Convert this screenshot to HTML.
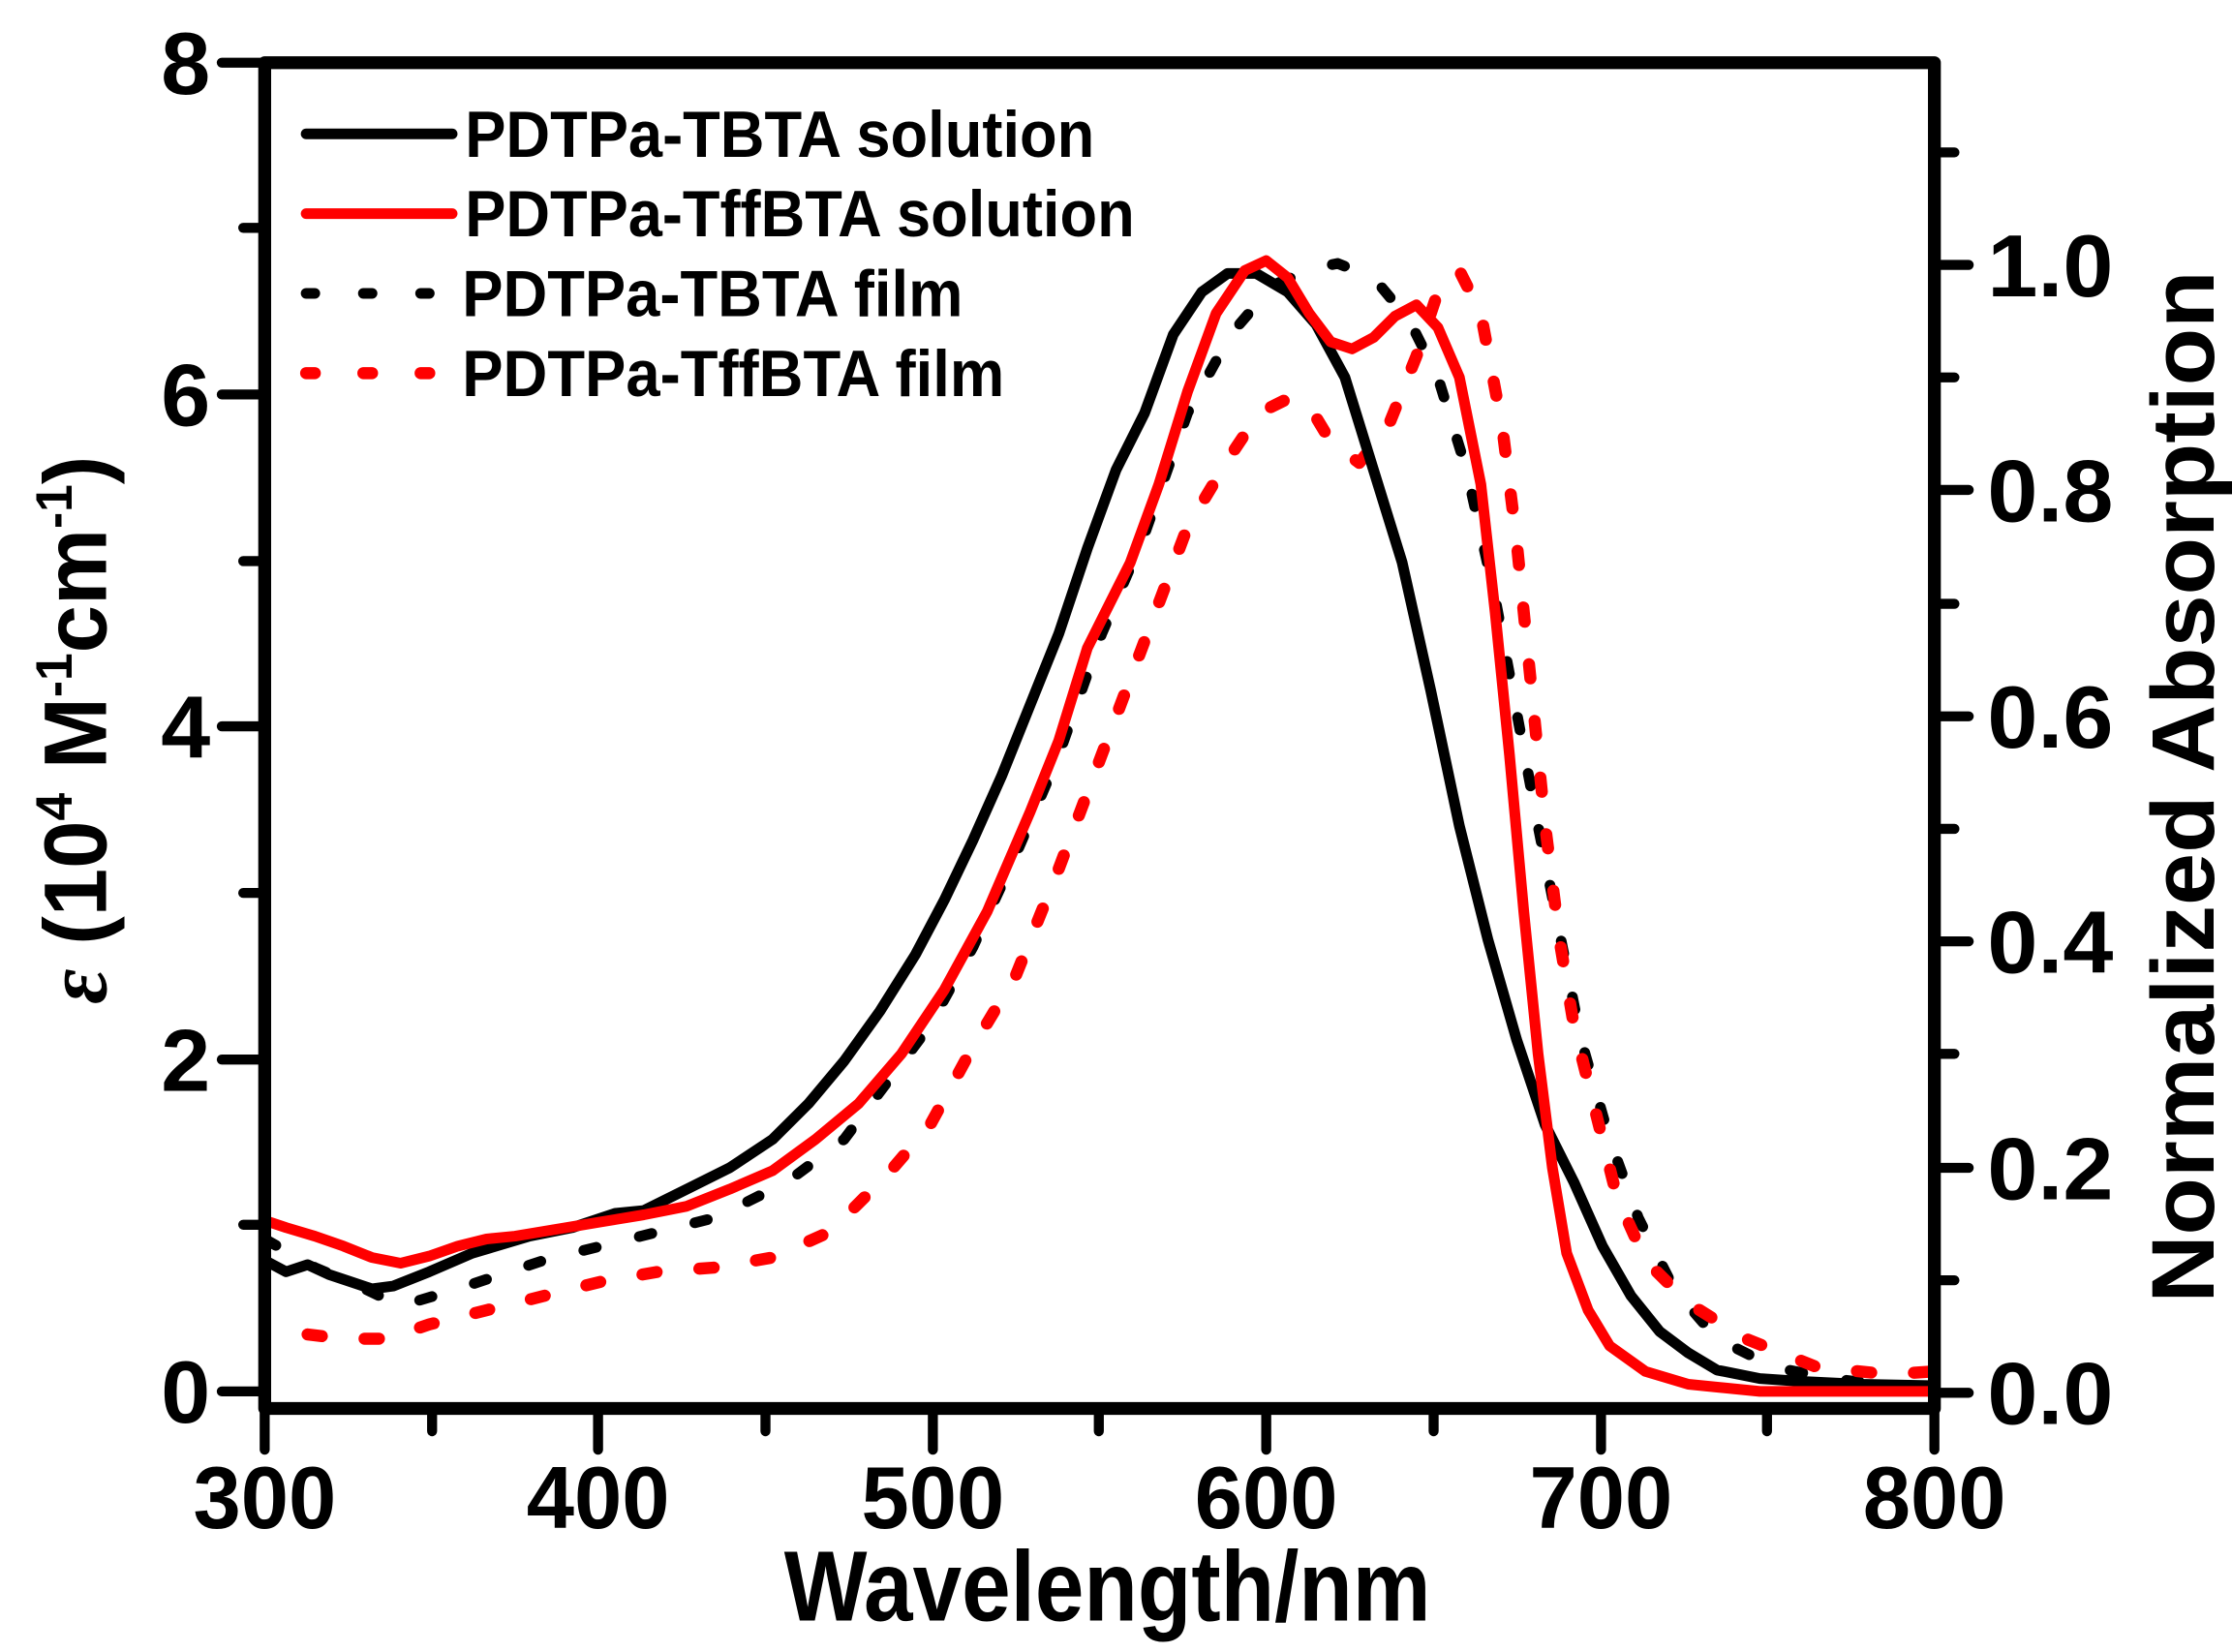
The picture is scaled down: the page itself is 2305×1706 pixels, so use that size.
<!DOCTYPE html>
<html><head><meta charset="utf-8"><style>html,body{margin:0;padding:0;background:#fff}svg{display:block}</style></head>
<body>
<svg width="2305" height="1706" viewBox="0 0 1560 1160" preserveAspectRatio="none" xmlns="http://www.w3.org/2000/svg" font-family="Liberation Sans, Arial, sans-serif" font-weight="bold">
<rect width="1560" height="1160" fill="#fff"/>
<g stroke="#000" stroke-linecap="round" fill="none">
<g stroke-width="7">
<line x1="155" y1="977" x2="185" y2="977"/><line x1="155" y1="744" x2="185" y2="744"/><line x1="155" y1="510" x2="185" y2="510"/><line x1="155" y1="277" x2="185" y2="277"/><line x1="155" y1="44" x2="185" y2="44"/>
<line x1="170" y1="860" x2="185" y2="860"/><line x1="170" y1="627" x2="185" y2="627"/><line x1="170" y1="394" x2="185" y2="394"/><line x1="170" y1="160" x2="185" y2="160"/>
<line x1="185" y1="990" x2="185" y2="1018"/><line x1="418" y1="990" x2="418" y2="1018"/><line x1="652" y1="990" x2="652" y2="1018"/><line x1="885" y1="990" x2="885" y2="1018"/><line x1="1119" y1="990" x2="1119" y2="1018"/><line x1="1352" y1="990" x2="1352" y2="1018"/>
<line x1="302" y1="990" x2="302" y2="1005"/><line x1="535" y1="990" x2="535" y2="1005"/><line x1="768" y1="990" x2="768" y2="1005"/><line x1="1002" y1="990" x2="1002" y2="1005"/><line x1="1235" y1="990" x2="1235" y2="1005"/>
<line x1="1352" y1="978" x2="1376" y2="978"/><line x1="1352" y1="820" x2="1376" y2="820"/><line x1="1352" y1="661" x2="1376" y2="661"/><line x1="1352" y1="503" x2="1376" y2="503"/><line x1="1352" y1="344" x2="1376" y2="344"/><line x1="1352" y1="186" x2="1376" y2="186"/>
<line x1="1352" y1="899" x2="1366" y2="899"/><line x1="1352" y1="740" x2="1366" y2="740"/><line x1="1352" y1="582" x2="1366" y2="582"/><line x1="1352" y1="424" x2="1366" y2="424"/><line x1="1352" y1="265" x2="1366" y2="265"/><line x1="1352" y1="107" x2="1366" y2="107"/>
</g>
</g>
<g fill="none" stroke-width="7.5" stroke-linejoin="round" stroke-linecap="round">
<polyline stroke="#000" stroke-dasharray="9 31" points="185,870 220,890 255,905 280,917 320,905 380,885 440,870 500,855 550,830 590,800 620,760 650,720 680,665 710,600 740,530 770,445 800,375 830,290 860,235 890,200 920,188 935,185 960,195 985,225 1005,265 1025,330 1045,420 1060,500 1075,580 1090,655 1105,730 1125,800 1145,855 1170,905 1200,940 1240,960 1280,968 1340,975"/>
<polyline stroke="#f00" stroke-width="8.5" stroke-dasharray="10 30" points="215,937 240,940 270,940 300,930 340,920 380,910 420,900 460,893 500,890 540,883 580,865 620,825 650,790 680,735 710,685 740,610 770,530 800,450 830,370 860,320 880,290 900,280 915,285 930,310 950,325 970,300 990,250 1005,205 1020,190 1035,220 1050,300 1060,380 1070,480 1080,580 1090,660 1100,720 1115,780 1130,840 1150,885 1180,915 1220,940 1270,960 1320,965 1352,963"/>
<polyline stroke="#000" points="185,885 200,893 215,888 230,895 245,900 260,905 275,903 300,893 330,880 370,868 400,862 430,852 450,850 480,835 510,820 540,800 565,775 590,745 615,710 640,670 660,632 680,590 700,545 720,495 740,445 760,385 780,330 800,290 820,235 840,205 858,192 878,192 900,205 920,228 940,265 960,330 980,395 1000,485 1020,580 1040,660 1060,730 1080,790 1100,830 1120,875 1140,910 1160,935 1180,950 1200,962 1230,968 1260,970 1300,972 1352,973"/>
<polyline stroke="#f00" points="185,857 200,862 220,868 240,875 260,883 280,887 300,882 320,875 340,870 360,868 390,863 420,858 450,853 480,847 510,835 540,822 570,800 600,775 630,740 660,695 690,640 720,570 740,520 760,455 790,395 810,340 830,275 850,220 870,190 885,183 900,195 915,220 930,240 945,245 960,237 975,222 990,214 1005,230 1020,265 1035,340 1045,430 1055,530 1065,640 1075,740 1085,820 1095,880 1110,920 1125,945 1150,963 1180,972 1230,977 1352,977"/>
</g>
<rect x="185" y="44" width="1167" height="945" fill="none" stroke="#000" stroke-width="9" stroke-linejoin="round"/>
<g stroke-width="7.5" stroke-linecap="round">
<line x1="214" y1="94" x2="316" y2="94" stroke="#000"/>
<line x1="214" y1="150" x2="316" y2="150" stroke="#f00"/>
<line x1="214" y1="206" x2="316" y2="206" stroke="#000" stroke-dasharray="6 34"/>
<line x1="214" y1="262" x2="316" y2="262" stroke="#f00" stroke-width="8.5" stroke-dasharray="6 34"/>
</g>
<g font-size="46" fill="#000">
<text x="325" y="110" textLength="440" lengthAdjust="spacingAndGlyphs">PDTPa-TBTA solution</text>
<text x="325" y="166" textLength="468" lengthAdjust="spacingAndGlyphs">PDTPa-TffBTA solution</text>
<text x="323" y="222" textLength="350" lengthAdjust="spacingAndGlyphs">PDTPa-TBTA film</text>
<text x="323" y="278" textLength="379" lengthAdjust="spacingAndGlyphs">PDTPa-TffBTA film</text>
</g>
<g font-size="62" fill="#000">
<g text-anchor="end">
<text x="147" y="999">0</text><text x="147" y="766">2</text><text x="147" y="532">4</text><text x="147" y="299">6</text><text x="147" y="66">8</text>
</g>
<g text-anchor="middle">
<text x="185" y="1073" textLength="100" lengthAdjust="spacingAndGlyphs">300</text>
<text x="418" y="1073" textLength="100" lengthAdjust="spacingAndGlyphs">400</text>
<text x="652" y="1073" textLength="100" lengthAdjust="spacingAndGlyphs">500</text>
<text x="885" y="1073" textLength="100" lengthAdjust="spacingAndGlyphs">600</text>
<text x="1119" y="1073" textLength="100" lengthAdjust="spacingAndGlyphs">700</text>
<text x="1352" y="1073" textLength="100" lengthAdjust="spacingAndGlyphs">800</text>
</g>
<text x="1389" y="1000" textLength="88" lengthAdjust="spacingAndGlyphs">0.0</text>
<text x="1389" y="842" textLength="88" lengthAdjust="spacingAndGlyphs">0.2</text>
<text x="1389" y="683" textLength="88" lengthAdjust="spacingAndGlyphs">0.4</text>
<text x="1389" y="525" textLength="88" lengthAdjust="spacingAndGlyphs">0.6</text>
<text x="1389" y="366" textLength="88" lengthAdjust="spacingAndGlyphs">0.8</text>
<text x="1389" y="208" textLength="88" lengthAdjust="spacingAndGlyphs">1.0</text>
</g>
<text x="774" y="1138" font-size="70" text-anchor="middle" textLength="452" lengthAdjust="spacingAndGlyphs">Wavelength/nm</text>
<text transform="translate(74,705) rotate(-90)" font-size="62" textLength="385" lengthAdjust="spacingAndGlyphs"><tspan font-style="italic" font-family="Liberation Serif, serif">ε</tspan> (10<tspan font-size="36" dy="-24">4</tspan><tspan dy="24"> M</tspan><tspan font-size="36" dy="-24">-1</tspan><tspan dy="24">cm</tspan><tspan font-size="36" dy="-24">-1</tspan><tspan dy="24">)</tspan></text>
<text transform="translate(1547,915) rotate(-90)" font-size="62" textLength="725" lengthAdjust="spacingAndGlyphs">Normalized Absorption</text>
</svg>
</body></html>
